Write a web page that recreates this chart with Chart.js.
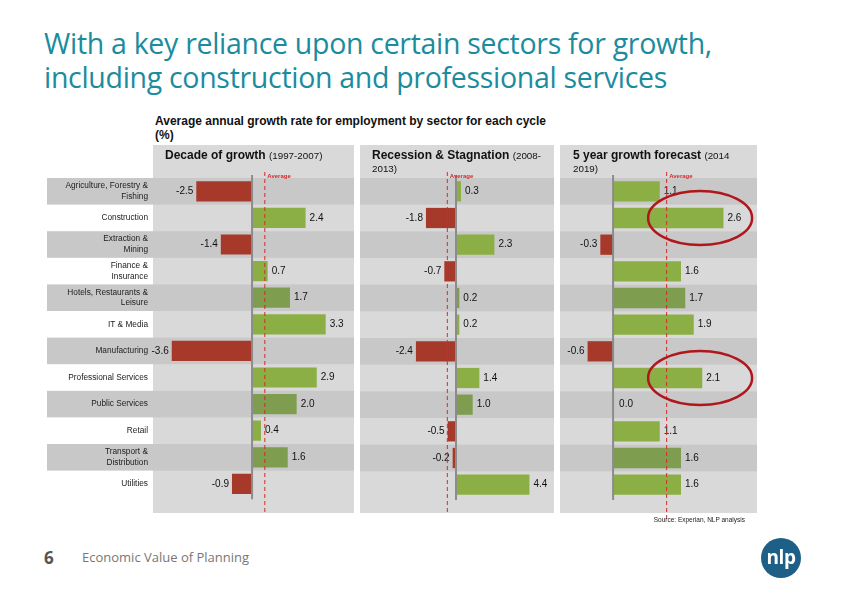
<!DOCTYPE html>
<html>
<head>
<meta charset="utf-8">
<script src="https://cdn.jsdelivr.net/npm/chart.js@4"></script>
<style>
  body { margin: 0; width: 842px; height: 595px; background: #fff; position: relative; overflow: hidden; font-family: 'Liberation Sans', Arial, sans-serif; }
  .abs { position: absolute; }
  #title { left: 44px; top: 26px; font-family: 'Open Sans', sans-serif; font-size: 28.5px; line-height: 34px; color: #1a8c9e; letter-spacing: -0.3px; white-space: nowrap; }
  #subtitle { left: 155px; top: 114px; font-size: 12px; font-weight: bold; color: #111; line-height: 14px; white-space: nowrap; }
  .head { top: 149px; font-size: 12px; font-weight: bold; color: #111; line-height: 13px; width: 180px; }
  .head span { font-weight: normal; font-size: 9.8px; }
  canvas { position: absolute; }
  #source { right: 97px; top: 516px; font-size: 6.5px; color: #222; }
  #pageNo { left: 44px; top: 546px; font-family: 'Open Sans', sans-serif; font-size: 17px; font-weight: bold; color: #555; }
  #footer { left: 82px; top: 548px; font-family: 'Open Sans', sans-serif; font-size: 13px; color: #777; }
  #logo { left: 761px; top: 538px; width: 40px; height: 40px; border-radius: 50%; background: #1d5f86; color: #fff; font-family: 'Open Sans', sans-serif; font-weight: bold; font-size: 19px; line-height: 38px; text-align: center; letter-spacing: -0.5px; }
</style>
</head>
<body>
<div id="title" class="abs">With a key reliance upon certain sectors for growth,<br>including construction and professional services</div>
<div id="subtitle" class="abs">Average annual growth rate for employment by sector for each cycle<br>(%)</div>

<canvas id="c1" width="307" height="368" style="left:47px;top:145px"></canvas>
<canvas id="c2" width="194" height="368" style="left:360px;top:145px"></canvas>
<canvas id="c3" width="197" height="376" style="left:560px;top:145px"></canvas>

<div class="abs head" style="left:165px">Decade of growth <span>(1997-2007)</span></div>
<div class="abs head" style="left:372px;width:175px">Recession &amp; Stagnation <span>(2008-<br>2013)</span></div>
<div class="abs head" style="left:573px;width:175px">5 year growth forecast <span>(2014<br>2019)</span></div>

<div id="source" class="abs">Source: Experian, NLP analysis</div>
<div id="pageNo" class="abs">6</div>
<div id="footer" class="abs">Economic Value of Planning</div>
<div id="logo" class="abs">nlp</div>

<script>
const sectors = [
  ['Agriculture, Forestry &', 'Fishing'],
  'Construction',
  ['Extraction &', 'Mining'],
  ['Finance &', 'Insurance'],
  ['Hotels, Restaurants &', 'Leisure'],
  'IT & Media',
  'Manufacturing',
  'Professional Services',
  'Public Services',
  'Retail',
  ['Transport &', 'Distribution'],
  'Utilities'
];
const decadeGrowth = [-2.5, 2.4, -1.4, 0.7, 1.7, 3.3, -3.6, 2.9, 2.0, 0.4, 1.6, -0.9];
const recessionGrowth = [0.3, -1.8, 2.3, -0.7, 0.2, 0.2, -2.4, 1.4, 1.0, -0.5, -0.2, 4.4];
const forecastGrowth = [1.1, 2.6, -0.3, 1.6, 1.7, 1.9, -0.6, 2.1, 0.0, 1.1, 1.6, 1.6];
const averages = [0.55, -0.55, 1.25];
const highlightRows = [1, 7]; // circled in the forecast panel

const GREEN = '#8caf45';
const GREEN_DARK = '#7f9d4f';
const RED = '#a6392a';
const PANEL = '#d9d9d9';
const ROW_DARK = '#c8c8c8';
const PANEL_H = 368;

function barColours(values) {
  return values.map((v, i) => {
    if (v < 0) return RED;
    return (i === 4 || i === 8 || i === 10) ? GREEN_DARK : GREEN;
  });
}

// backgrounds, zero line, average line, value labels
const panelPlugin = {
  id: 'panelPlugin',
  beforeDraw(chart) {
    const { ctx, chartArea: ca, scales } = chart;
    const y = scales.y;
    const rowH = (ca.bottom - ca.top) / sectors.length;
    ctx.save();
    ctx.fillStyle = PANEL;
    ctx.fillRect(ca.left, 0, ca.right - ca.left, PANEL_H);
    ctx.fillStyle = ROW_DARK;
    for (let i = 0; i < sectors.length; i += 2) {
      const cy = y.getPixelForValue(i);
      ctx.fillRect(0, cy - rowH / 2, ca.right, rowH);
    }
    ctx.restore();
  },
  afterDatasetsDraw(chart, args, opts) {
    const { ctx, chartArea: ca, scales } = chart;
    const x = scales.x;
    ctx.save();
    // zero axis
    const x0 = x.getPixelForValue(0);
    ctx.strokeStyle = '#8c8c8c';
    ctx.lineWidth = 2;
    ctx.beginPath();
    ctx.moveTo(x0, ca.top - 3);
    ctx.lineTo(x0, ca.bottom + 2);
    ctx.stroke();

    // value labels
    const meta = chart.getDatasetMeta(0);
    const data = chart.data.datasets[0].data;
    ctx.font = '10px "Liberation Sans", Arial';
    ctx.fillStyle = '#111';
    ctx.textBaseline = 'middle';
    meta.data.forEach((bar, i) => {
      const v = data[i];
      if (v < 0) {
        ctx.textAlign = 'right';
        ctx.fillText(v.toFixed(1), bar.x - 3, bar.y);
      } else {
        ctx.textAlign = 'left';
        ctx.fillText(v.toFixed(1), Math.max(bar.x, x0 + 2) + 4, bar.y);
      }
    });

    // average line
    const xa = x.getPixelForValue(opts.average);
    ctx.strokeStyle = '#d42a2a';
    ctx.lineWidth = 1;
    ctx.setLineDash([4, 3]);
    ctx.beginPath();
    ctx.moveTo(xa + 0.5, 27);
    ctx.lineTo(xa + 0.5, chart.height);
    ctx.stroke();
    ctx.setLineDash([]);
    ctx.fillStyle = '#d42a2a';
    ctx.font = 'bold 6px "Liberation Sans", Arial';
    ctx.textAlign = 'left';
    ctx.fillText('Average', xa + 3, 31);

    // highlight ellipses
    if (opts.highlight) {
      const y = scales.y;
      ctx.strokeStyle = '#b0161c';
      ctx.lineWidth = 2.5;
      opts.highlight.forEach(r => {
        const cx = x.getPixelForValue(2.05);
        ctx.beginPath();
        ctx.ellipse(cx, y.getPixelForValue(r), 52, 27, 0, 0, Math.PI * 2);
        ctx.stroke();
      });
    }
    ctx.restore();
  }
};

function makePanel(id, values, average, xmin, xmax, showLabels, highlight) {
  const canvas = document.getElementById(id);
  return new Chart(canvas, {
    type: 'bar',
    data: {
      labels: sectors,
      datasets: [{
        data: values,
        backgroundColor: barColours(values),
        borderWidth: 0,
        barPercentage: 0.76,
        categoryPercentage: 1
      }]
    },
    options: {
      indexAxis: 'y',
      responsive: false,
      animation: false,
      layout: { padding: { top: 33, bottom: 15 + (canvas.height - PANEL_H), left: 0, right: 0 } },
      plugins: {
        legend: { display: false },
        tooltip: { enabled: false },
        panelPlugin: { average: average, highlight: highlight }
      },
      scales: {
        x: { min: xmin, max: xmax, display: false },
        y: {
          display: showLabels,
          grid: { display: false, drawTicks: false },
          border: { display: false },
          ticks: {
            padding: 5,
            color: '#222',
            font: { family: '"Liberation Sans", Arial', size: 8.3, lineHeight: 1.3 }
          },
          afterFit(scale) { scale.width = showLabels ? 106 : 0; }
        }
      }
    },
    plugins: [panelPlugin]
  });
}

makePanel('c1', decadeGrowth, averages[0], -4.44, 4.57, true, null);
makePanel('c2', recessionGrowth, averages[1], -5.75, 5.87, false, null);
makePanel('c3', forecastGrowth, averages[2], -1.25, 3.39, false, highlightRows);
</script>
</body>
</html>
